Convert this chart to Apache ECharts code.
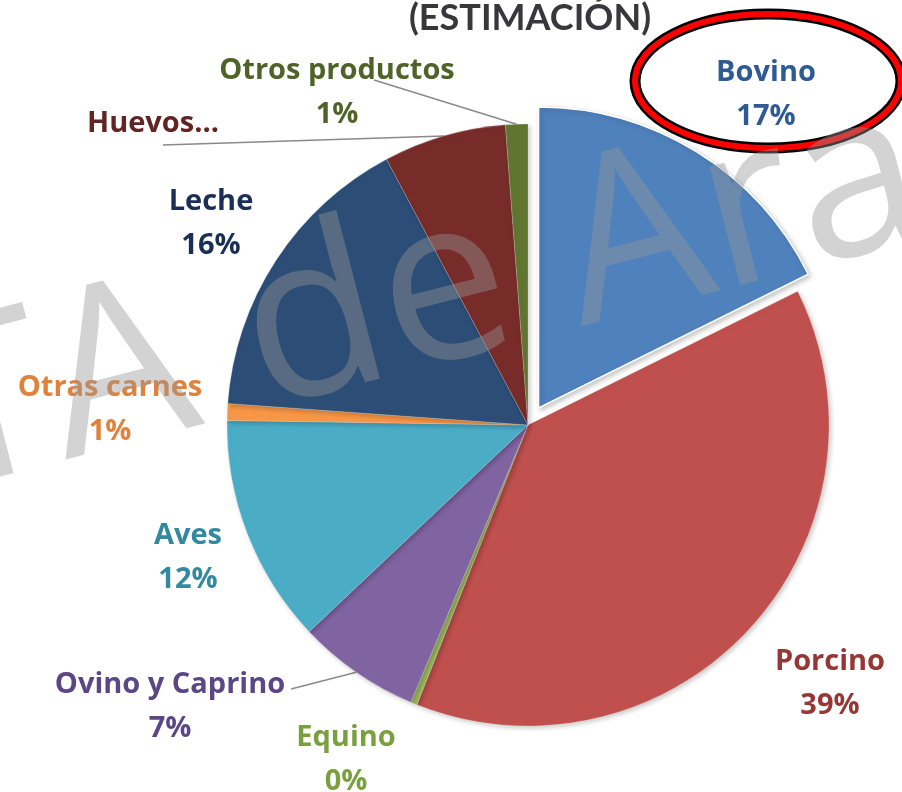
<!DOCTYPE html>
<html>
<head>
<meta charset="utf-8">
<script src="https://cdn.jsdelivr.net/npm/echarts@6/dist/echarts.min.js"></script>
<style>
html,body{margin:0;padding:0;background:#fff;}
#chart{width:902px;height:792px;}
</style>
</head>
<body>
<div id="chart"></div>
<script>
// ---- data ----
const categories = ['Bovino', 'Porcino', 'Equino', 'Ovino y Caprino', 'Aves', 'Otras carnes', 'Leche', 'Huevos...', 'Otros productos'];
const values = [17.7, 38.4, 0.35, 6.6, 12.3, 0.9, 16.1, 6.6, 1.2];
const pctLabels = ['17%', '39%', '0%', '7%', '12%', '1%', '16%', null, '1%'];
const explodedIndex = 0;
const titleText = '(ESTIMACIÓN)';
const watermarkText = 'TA de Ara';

// ---- layout & styles ----
const CX = 528, CY = 425, R = 301, EXPLODE = 20;
const sliceColors = ['#4f81bd', '#c0504d', '#9bbb59', '#8064a2', '#4bacc6', '#f79646', '#2c4d75', '#772c2a', '#5f7530'];
const labelColors = ['#2e5a96', '#953735', '#79a03e', '#5b4785', '#3289a0', '#e0823c', '#1b2f56', '#632523', '#4f6228'];
const labelPos = [[766, 95], [830, 684], [346, 760], [170, 707], [188, 558], [110, 410], [211, 224], [153, 124], [337, 93]];
const labelLineEnd = [null, null, null, [291, 689], null, null, null, [163, 145], [374, 80]];

// offset of the exploded slice along its mid angle (derived from the data)
const total = values.reduce((a, b) => a + b, 0);
let before = 0;
for (let i = 0; i < explodedIndex; i++) before += values[i];
const midAng = (before + values[explodedIndex] / 2) / total * 2 * Math.PI;
const exCenter = [CX + EXPLODE * Math.sin(midAng), CY - EXPLODE * Math.cos(midAng)];

const chart = echarts.init(document.getElementById('chart'), null, {renderer: 'canvas'});

const baseItemStyle = {
  borderColor: 'rgba(255,255,255,0.35)',
  borderWidth: 0.6,
  shadowBlur: 5,
  shadowColor: 'rgba(0,0,0,0.22)',
  shadowOffsetX: 2,
  shadowOffsetY: 2
};
const hiddenItemStyle = {color: 'rgba(0,0,0,0)', borderWidth: 0, shadowColor: 'rgba(0,0,0,0)', shadowBlur: 0};

const mainData = categories.map((c, i) => ({
  name: c,
  value: values[i],
  itemStyle: i === explodedIndex ? hiddenItemStyle : {color: sliceColors[i]},
  label: {color: labelColors[i]},
  labelLine: {show: labelLineEnd[i] !== null}
}));

const explodedData = categories.map((c, i) => ({
  name: c,
  value: values[i],
  itemStyle: i === explodedIndex ? {color: sliceColors[i]} : hiddenItemStyle
}));

const option = {
  animation: false,
  backgroundColor: '#ffffff',
  series: [{
    type: 'pie',
    center: [CX, CY],
    radius: R,
    startAngle: 90,
    clockwise: true,
    avoidLabelOverlap: false,
    emphasis: {disabled: true},
    itemStyle: baseItemStyle,
    label: {
      show: true,
      position: 'outside',
      fontFamily: 'Open Sans',
      fontWeight: 'bold',
      fontSize: 29,
      lineHeight: 44,
      formatter: p => pctLabels[p.dataIndex] === null ? p.name : p.name + '\n' + pctLabels[p.dataIndex]
    },
    labelLine: {
      show: true,
      length: 10,
      length2: 10,
      lineStyle: {color: '#8a8a8a', width: 1.5}
    },
    labelLayout: function (params) {
      const i = params.dataIndex;
      const res = {x: labelPos[i][0], y: labelPos[i][1], align: 'center', verticalAlign: 'middle'};
      if (labelLineEnd[i] && params.labelLinePoints) {
        const s = params.labelLinePoints[0];
        res.labelLinePoints = [s, labelLineEnd[i], labelLineEnd[i]];
      }
      return res;
    },
    data: mainData
  }, {
    type: 'pie',
    center: exCenter,
    radius: R,
    startAngle: 90,
    clockwise: true,
    silent: true,
    emphasis: {disabled: true},
    itemStyle: Object.assign({}, baseItemStyle, {borderColor: '#ffffff', borderWidth: 1.5}),
    label: {show: false},
    labelLine: {show: false},
    data: explodedData
  }],
  graphic: [
    {
      type: 'text',
      x: 530, y: 18,
      z: 10,
      style: {
        text: titleText,
        fill: '#38383c',
        font: 'bold 36px Lato',
        textAlign: 'center',
        textVerticalAlign: 'middle'
      }
    },
    {
      type: 'ellipse',
      z: 10,
      shape: {cx: 768, cy: 81, rx: 133, ry: 67},
      style: {fill: 'none', stroke: '#000000', lineWidth: 11}
    },
    {
      type: 'ellipse',
      z: 11,
      shape: {cx: 768, cy: 81, rx: 133, ry: 67},
      style: {fill: 'none', stroke: '#ff0000', lineWidth: 6}
    },
    {
      type: 'text',
      x: -73, y: 428,
      rotation: 14.5 * Math.PI / 180,
      z: 20,
      silent: true,
      style: {
        text: watermarkText,
        fill: 'rgba(150,150,150,0.42)',
        font: '229px "Open Sans"',
        textAlign: 'left',
        textVerticalAlign: 'middle'
      }
    }
  ]
};
chart.setOption(option);
</script>
</body>
</html>
